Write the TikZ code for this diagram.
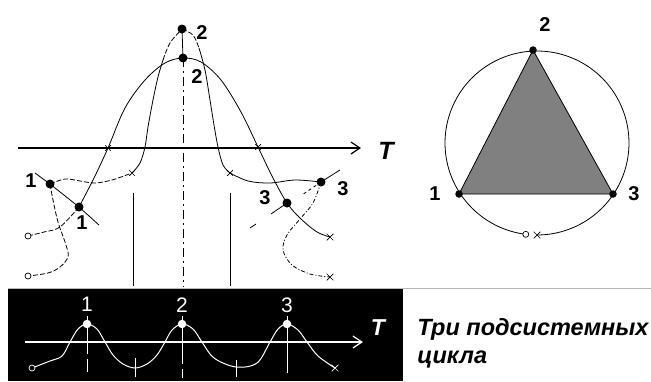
\documentclass[tikz,border=0pt]{standalone}
\usepackage{fontspec}
\setmainfont{Liberation Sans}
\usetikzlibrary{arrows.meta,shapes.misc}
\begin{document}
\begin{tikzpicture}[x=1pt,y=-1pt,line width=0.8pt,
  dotb/.style={circle,fill=black,inner sep=0pt,minimum size=9pt},
  dotc/.style={circle,fill=black,inner sep=0pt,minimum size=7.5pt},
  dotw/.style={circle,fill=white,inner sep=0pt,minimum size=8.5pt},
  opn/.style={circle,draw,fill=white,inner sep=0pt,minimum size=6pt,line width=0.7pt},
  opnw/.style={circle,draw=white,fill=black,inner sep=0pt,minimum size=6pt,line width=0.7pt},
  crs/.style={cross out,draw,inner sep=0pt,minimum size=6pt,line width=0.7pt},
  crsw/.style={cross out,draw=white,inner sep=0pt,minimum size=6pt,line width=0.7pt},
  lbl/.style={font=\fontsize{20}{20}\selectfont\bfseries,inner sep=0pt},
  lblw/.style={font=\fontsize{21}{21}\selectfont,text=white,inner sep=0pt},
  tlbl/.style={font=\fontsize{25}{25}\selectfont\bfseries\itshape,inner sep=0pt},
  txt/.style={font=\fontsize{23.5}{28}\selectfont\bfseries\itshape,inner sep=0pt,anchor=base west},
  axisarrow/.style={-{Straight Barb[length=9pt,width=12pt]},line width=1.2pt},
  dashdotv/.style={dash pattern=on 9pt off 4pt on 2pt off 4pt},
  dashdotc/.style={dash pattern=on 4pt off 2pt on 1pt off 2pt},
  shortdash/.style={dash pattern=on 5pt off 2pt},
  curve/.style={smooth,tension=0.55}
]
\fill[white] (0,0) rectangle (651,381);
\useasboundingbox (0,0) rectangle (651,381);

% ---------- top-left diagram ----------
\coordinate (P2a) at (182,29);
\coordinate (P2b) at (183,58);
\coordinate (P1a) at (50,184);
\coordinate (P1b) at (79,207);
\coordinate (P3b) at (287,203);
\coordinate (P3a) at (321,182);
\coordinate (O1) at (28,236);
\coordinate (O2) at (28,276);
\coordinate (X1) at (330,237);
\coordinate (X2) at (330,277);
\coordinate (Xa) at (108,148);
\coordinate (Xb) at (258,147);
\coordinate (Xc) at (132,173);
\coordinate (Xd) at (230,173);
\coordinate (ax0) at (18,148);
\coordinate (ax1) at (361,148);
\coordinate (vb) at (183,287);

\draw[axisarrow] (ax0) -- (ax1);
\node[tlbl] (T1) at (386,151) {T};

\draw (P2a) -- (P2b);
\draw[dashdotv] (P2b) -- (vb);
\coordinate (l1a) at (133,193); \coordinate (l1b) at (133,286);
\coordinate (l2a) at (230,193); \coordinate (l2b) at (230,286);
\draw (l1a) -- (l1b);
\draw (l2a) -- (l2b);

% wide bell
\draw plot[curve] coordinates {(P1b) (94,178) (Xa) (125,108) (145,80) (165,63) (P2b) (201,62) (221,80) (241,112) (Xb) (272,176) (P3b) (301,219) (317,232) (X1)};
% left spur to O1
\draw[shortdash] plot[curve] coordinates {(P1b) (60,227) (44,232) (O1)};
% straight line through 1 and 1'
\coordinate (s1) at (35,173); \coordinate (s2) at (99,225);
\draw (s1) -- (P1a) -- (P1b) -- (s2);
% narrow curve
\draw[shortdash] plot[curve] coordinates {(P1a) (65,179) (80,181) (95,183) (112,180) (Xc)};
\draw plot[curve] coordinates {(Xc) (140,163) (145,147) (148,127) (153,100) (158,77) (163,60)};
\draw[shortdash] plot[curve] coordinates {(163,60) (170,43) (P2a)};
\draw[shortdash] plot[curve] coordinates {(P2a) (193,35) (199,48)};
\draw plot[curve] coordinates {(199,48) (205,70) (210,100) (214,125) (218,147) (223,165) (Xd)};
\draw plot[curve] coordinates {(Xd) (248,181) (270,183) (295,180) (P3a)};
\coordinate (s3) at (340,170);
\draw (s3) -- (P3a);
% dashed down curve from dot 1
\draw[shortdash] plot[curve] coordinates {(P1a) (53,200) (58,222) (66,245) (68,257) (60,267) (48,273) (O2)};
% line through 3 and 3'
\coordinate (s4) at (302,195); \coordinate (s5) at (271,214);
\coordinate (s6) at (256,224); \coordinate (s7) at (250,228);
\draw[dashed] (P3a) -- (s4);
\draw (P3b) -- (s5);
\draw (s6) -- (s7);
% dash-dot curve from dot 3 down
\draw[dashdotc] plot[curve] coordinates {(P3a) (313,203) (300,219) (287,235) (283,250) (292,265) (310,274) (X2)};

% markers
\node[dotb] (d2a) at (P2a) {};
\node[dotb] (d2b) at (P2b) {};
\node[dotb] (d1a) at (P1a) {};
\node[dotb] (d1b) at (P1b) {};
\node[dotb] (d3a) at (P3a) {};
\node[dotb] (d3b) at (P3b) {};
\node[opn] (o1) at (O1) {};
\node[opn] (o2) at (O2) {};
\node[crs] (x1) at (X1) {};
\node[crs] (x2) at (X2) {};
\node[crs,minimum size=5pt] (xa) at (Xa) {};
\node[crs,minimum size=5pt] (xb) at (Xb) {};
\node[crs,minimum size=5pt] (xc) at (Xc) {};
\node[crs,minimum size=5pt] (xd) at (Xd) {};

\node[lbl] (t2a) at (202,32.5) {2};
\node[lbl] (t2b) at (197,77) {2};
\node[lbl] (t1a) at (31,181) {1};
\node[lbl] (t1b) at (82,223) {1};
\node[lbl] (t3b) at (265,198) {3};
\node[lbl] (t3a) at (343,189) {3};

% ---------- circle diagram ----------
\coordinate (Q1) at (459,194);
\coordinate (Q2) at (533,50);
\coordinate (Q3) at (613,194);
\filldraw[fill=gray] (Q1) -- (Q2) -- (Q3) -- cycle;
\draw plot[smooth,domain=97:450,samples=140] ({537+92*cos(\x)},{143+92*sin(\x)});
\node[dotc] (q1) at (Q1) {};
\node[dotc] (q2) at (Q2) {};
\node[dotc] (q3) at (Q3) {};
\node[opn] (co) at ({537+92*cos(97)},{143+92*sin(97)}) {};
\node[crs] (cx) at ({537+92*cos(90)},{143+92*sin(90)}) {};
\node[lbl] (c2) at (545,25) {2};
\node[lbl] (c1) at (435,194) {1};
\node[lbl] (c3) at (634,194) {3};

% ---------- bottom panel ----------
\fill[black] (8,289) rectangle (403,381);
\coordinate (g0) at (8,288.5); \coordinate (g1) at (651,288.5);
\draw[gray!55,line width=1pt] (g0) -- (g1);
\coordinate (bx0) at (25,342); \coordinate (bx1) at (363,342);
\draw[axisarrow,white,line width=1.2pt] (bx0) -- (bx1);
\node[tlbl,text=white,font=\fontsize{23}{23}\selectfont\bfseries\itshape] (T2) at (378,328) {T};

\coordinate (BO) at (32,368);
\coordinate (BX) at (335,368);
\coordinate (B1) at (87,324);
\coordinate (B2) at (182,324);
\coordinate (B3) at (287,324);
\draw[white,line width=1pt] plot[curve] coordinates {(BO) (50,361) (62,356) (70,342) (78,329) (B1) (97,329) (105,342) (113,355) (123,364) (135,368) (147,364) (157,355) (165,342) (172,330) (B2) (193,329) (202,342) (214,358) (236,367) (257,363) (270,342) (278,329) (B3) (298,330) (307,342) (318,356) (BX)};
\begin{scope}[white,line width=1pt]
\draw (87,316) -- (87,354);
\draw (87,359) -- (87,372);
\draw (182,316) -- (182,364);
\draw (182,369) -- (182,378);
\draw (287,316) -- (287,373);
\draw (135,358) -- (135,377);
\draw (236,360) -- (236,377);
\end{scope}
\node[dotw] (b1) at (B1) {};
\node[dotw] (b2) at (B2) {};
\node[dotw] (b3) at (B3) {};
\node[opnw] (bo) at (BO) {};
\node[crsw] (bxx) at (BX) {};
\node[lblw] (n1) at (87,304) {1};
\node[lblw] (n2) at (182,305) {2};
\node[lblw] (n3) at (287,305) {3};

\node[txt] (tx1) at (417,335) {Три подсистемных};
\node[txt] (tx2) at (417,363) {цикла};
\end{tikzpicture}
\end{document}
